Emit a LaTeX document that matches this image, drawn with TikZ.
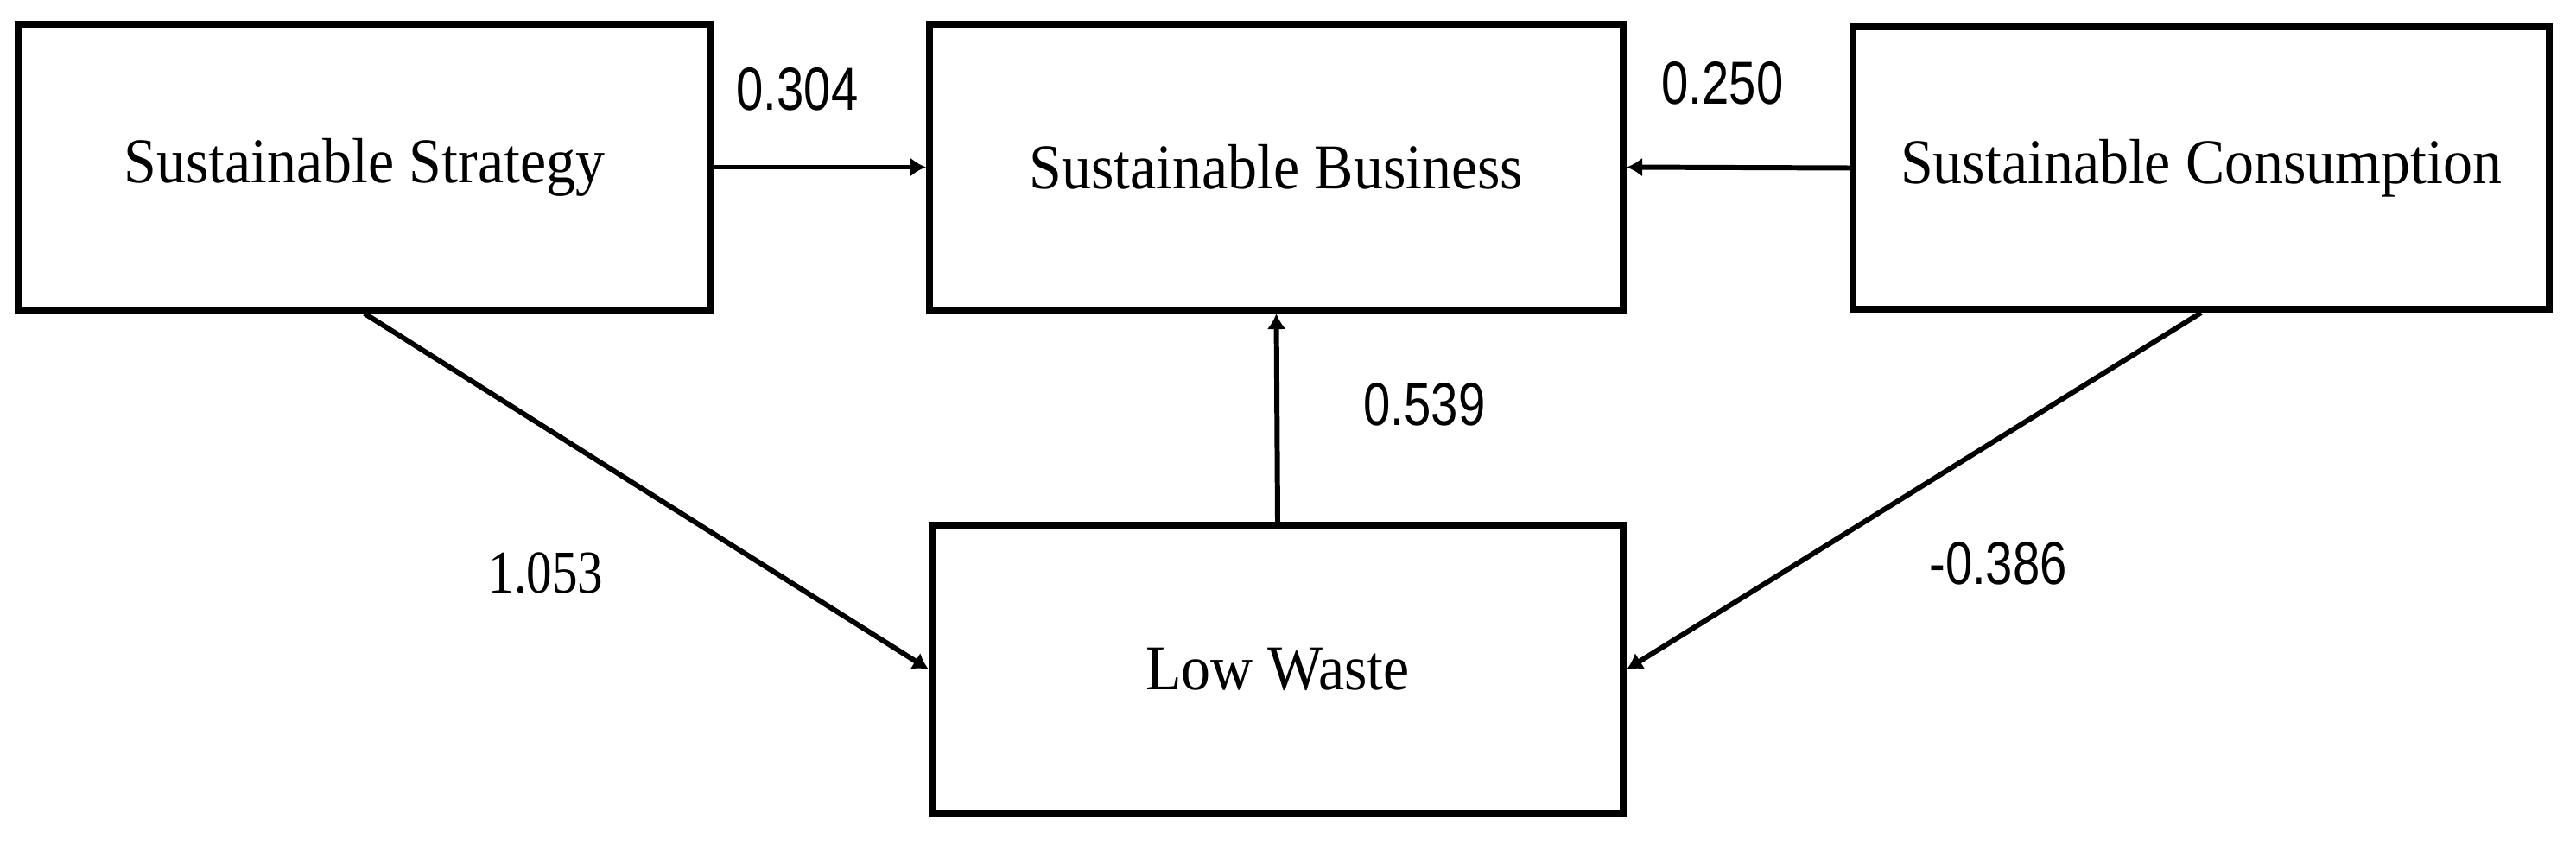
\documentclass[tikz,border=0pt]{standalone}
\usepackage{fontspec}
\setmainfont{Liberation Serif}
\newfontfamily\coeffont{Liberation Sans}
\usepackage{graphicx}
\usetikzlibrary{arrows.meta}
\tikzset{
	var_box/.style={draw, line width=2.3pt, minimum width=8.02cm, minimum height=3.31cm, inner sep=0pt, font=\fontsize{21}{25}\selectfont},
	path_arrow/.style={line width=1.7pt, -{Latex[length=0.18cm, width=0.22cm]}},
	coef/.style={inner sep=0pt, font=\coeffont\fontsize{20}{24}\selectfont},
	coef_serif/.style={inner sep=0pt, font=\fontsize{20}{24}\selectfont},
}
\newcommand{\narrowtext}[2]{\scalebox{#1}[1]{#2}}

\begin{document}
\begin{tikzpicture}
	\useasboundingbox (0, 0) rectangle (29.82, 9.75);
	\node[var_box] (strategy) at (4.22, 7.815) {\narrowtext{0.92}{Sustainable Strategy}};
	\node[var_box, minimum width=8.03cm] (business) at (14.775, 7.815) {\narrowtext{0.92}{Sustainable Business}};
	\node[var_box, minimum width=8.06cm, minimum height=3.27cm] (consumption) at (25.48, 7.805) {\narrowtext{0.92}{Sustainable Consumption}};
	\node[var_box, minimum width=8.0cm, minimum height=3.34cm] (waste) at (14.79, 2.0) {\narrowtext{0.92}{Low Waste}};
	\draw[path_arrow] (strategy.east) -- (business.west);
	\draw[path_arrow] (consumption.west) -- (business.east);
	\draw[path_arrow] (waste.north) -- (business.south);
	\draw[path_arrow] (strategy.south) -- (waste.west);
	\draw[path_arrow] (consumption.south) -- (waste.east);
	\node[coef] (c_sb) at (9.23, 8.72) {\narrowtext{0.8}{0.304}};
	\node[coef] (c_cb) at (19.94, 8.79) {\narrowtext{0.8}{0.250}};
	\node[coef] (c_wb) at (16.49, 5.07) {\narrowtext{0.8}{0.539}};
	\node[coef_serif] (c_sw) at (6.32, 3.11) {\narrowtext{0.84}{1.053}};
	\node[coef] (c_cw) at (23.13, 3.23) {\narrowtext{0.8}{-0.386}};
\end{tikzpicture}
\end{document}
